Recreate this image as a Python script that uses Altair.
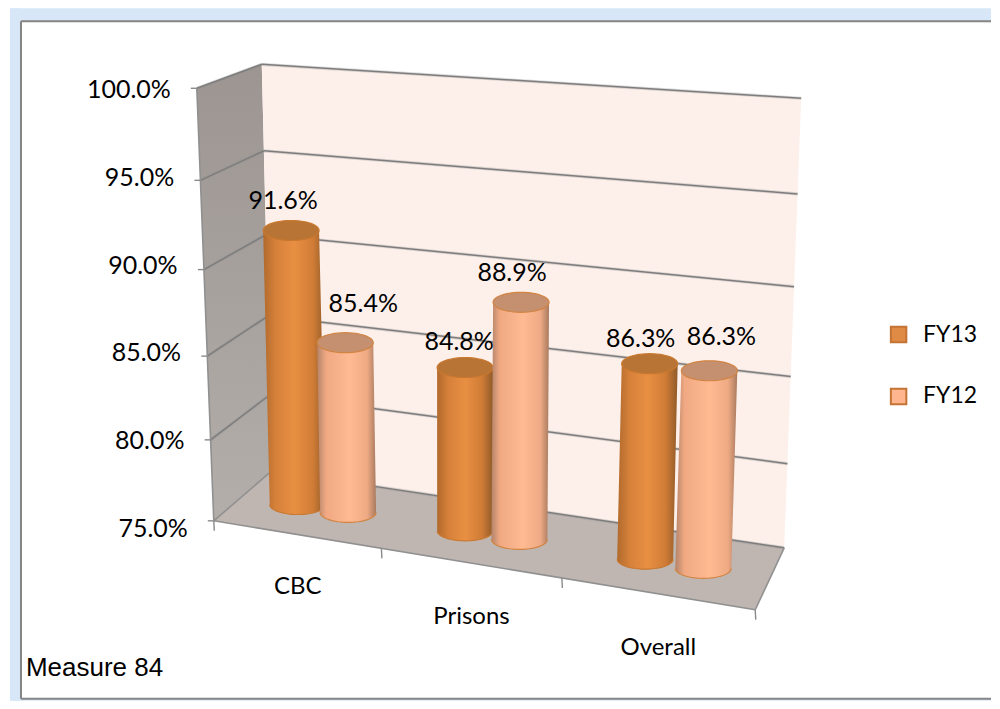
import altair as alt
import numpy as np
import pandas as pd

categories = ["CBC", "Prisons", "Overall"]
series = ["FY13", "FY12"]
fy13 = [91.6, 84.8, 86.3]
fy12 = [85.4, 88.9, 86.3]
ticks = [75, 80, 85, 90, 95, 100]
note = "Measure 84"

# Box of the 3D view as drawn: (front/back, left/right, floor/ceiling)
C = {
    (0, 0, 0): (214, 521), (0, 1, 0): (756, 610), (1, 0, 0): (272, 471), (1, 1, 0): (785, 548),
    (0, 0, 1): (197, 88), (0, 1, 1): (775, 134), (1, 0, 1): (262, 64), (1, 1, 1): (802, 98),
}
PW, PH = 984, 693
XS = alt.Scale(domain=[8, 8 + PW], nice=False, zero=False)
YS = alt.Scale(domain=[8 + PH, 8], nice=False, zero=False)
FONT = "Lato"


def project(u, pct, d):
    u2 = u - 0.107 * u * (1 - u)
    v = (pct - 75) / 25
    v2 = v - 0.08 * v * (1 - v)
    x = y = 0.0
    for (a, b, c), (px, py) in C.items():
        w = (d if a else 1 - d) * (u2 if b else 1 - u2) * (v2 if c else 1 - v2)
        x += w * px
        y += w * py
    return x, y


def poly_rows(pid, pts):
    """Turn a convex outline into x / upper / lower rows for an area mark."""
    xs = sorted({round(p[0], 3) for p in pts})
    rows = []
    n = len(pts)
    for x in xs:
        hits = []
        for i in range(n):
            (x0, y0), (x1, y1) = pts[i], pts[(i + 1) % n]
            lo, hi = min(x0, x1), max(x0, x1)
            if lo - 1e-3 <= x <= hi + 1e-3:
                if abs(x1 - x0) < 1e-6:
                    hits += [y0, y1]
                else:
                    hits.append(y0 + (y1 - y0) * (x - x0) / (x1 - x0))
        rows.append({"id": pid, "x": x, "y": min(hits), "y2": max(hits)})
    return rows


def ellipse(cx, cy, rx, ry, n=48):
    return [(cx + rx * np.cos(t), cy + ry * np.sin(t)) for t in np.linspace(0, 2 * np.pi, n, endpoint=False)]


def area(rows, **kw):
    return (
        alt.Chart(pd.DataFrame(rows))
        .mark_area(orient="vertical", **kw)
        .encode(
            x=alt.X("x:Q", scale=XS, axis=None),
            y=alt.Y("y:Q", scale=YS, axis=None),
            y2="y2:Q",
            detail="id:N",
        )
    )


def curve(pts, **kw):
    return (
        alt.Chart(pd.DataFrame({"x": [p[0] for p in pts], "y": [p[1] for p in pts]}))
        .mark_line(**kw)
        .encode(
            x=alt.X("x:Q", scale=XS, axis=None),
            y=alt.Y("y:Q", scale=YS, axis=None),
        )
    )


def seg(rows, **kw):
    return (
        alt.Chart(pd.DataFrame(rows))
        .mark_rule(**kw)
        .encode(
            x=alt.X("x:Q", scale=XS, axis=None),
            y=alt.Y("y:Q", scale=YS, axis=None),
            x2="x2:Q",
            y2="y2:Q",
        )
    )


def txt(rows, align="center", **kw):
    return (
        alt.Chart(pd.DataFrame(rows))
        .mark_text(align=align, baseline="middle", **kw)
        .encode(
            x=alt.X("x:Q", scale=XS, axis=None),
            y=alt.Y("y:Q", scale=YS, axis=None),
            text="t:N",
        )
    )


def s(a, b):
    return {"x": a[0], "y": a[1], "x2": b[0], "y2": b[1]}


# page band and frame
band = alt.Chart(pd.DataFrame([
    {"x": 10, "x2": 21, "y": 8, "y2": 701},
    {"x": 10, "x2": 992, "y": 8, "y2": 21},
    {"x": 10, "x2": 992, "y": 699, "y2": 701},
])).mark_rect(color="#d8e7f8").encode(
    x=alt.X("x:Q", scale=XS, axis=None), x2="x2:Q",
    y=alt.Y("y:Q", scale=YS, axis=None), y2="y2:Q")
frame = seg([s((21, 21), (992, 21)), s((21, 21), (21, 699)), s((21, 699), (992, 699))],
            color="#858585", strokeWidth=2)

# walls and floor
bl, br = C[(1, 0, 0)], C[(1, 1, 0)]
walls = [
    area(poly_rows("side", [C[(0, 0, 1)], C[(1, 0, 1)], bl, C[(0, 0, 0)]]),
         color=alt.Gradient(gradient="linear", x1=0, x2=0, y1=0, y2=1,
                            stops=[alt.GradientStop(color="#9c9591", offset=0),
                                   alt.GradientStop(color="#b3aeaa", offset=1)])),
    area(poly_rows("back", [C[(1, 0, 1)], C[(1, 1, 1)], br, bl]), color="#fdf0ea"),
    area(poly_rows("floor", [bl, br, C[(0, 1, 0)], C[(0, 0, 0)]]), color="#bfb6b2"),
]

# grid lines along side and back wall
grid_rows = []
for t in ticks[1:]:
    grid_rows.append(s(project(0, t, 0), project(0, t, 1)))
    grid_rows.append(s(project(0, t, 1), project(1, t, 1)))
grid_rows.append(s(bl, br))
grid_halo = seg(grid_rows, color="#8f8f8f", strokeWidth=3.2, opacity=0.3)
grid = seg(grid_rows, color="#7d7d7d", strokeWidth=1.5)

edge_rows = [s(C[(0, 0, 1)], C[(0, 0, 0)]), s(C[(0, 0, 0)], C[(0, 1, 0)]),
             s(C[(0, 1, 0)], br), s(C[(0, 0, 0)], bl)]
edges = seg(edge_rows, color="#909090", strokeWidth=1.6)

tick_rows = []
for t in ticks:
    p = project(0, t, 0)
    tick_rows.append(s((p[0] - 6, p[1]), p))
for i in range(4):
    p = project(i / 3, 75, 0)
    tick_rows.append(s(p, (p[0] + 0.5, p[1] + 10)))
tickmarks = seg(tick_rows, color="#8a8a8a", strokeWidth=1.4)

# cylinders
RX, RY = 28, 10
DELTA = 0.0515
STYLE = {
    "FY13": dict(stops=[("#b06a2c", 0), ("#d6803a", 0.2), ("#e88f42", 0.5), ("#d07c36", 0.8), ("#8f5a28", 1)],
                 cap="#b87434", edge="#c9782f"),
    "FY12": dict(stops=[("#b5846a", 0), ("#f0a983", 0.15), ("#ffba92", 0.55), ("#eeaa84", 0.85), ("#a87a5e", 1)],
                 cap="#c4906f", edge="#d28442"),
}
bar_layers = []
label_rows = []
LABEL_SHIFT = {("FY13", 0): (-8, -30), ("FY12", 0): (18, -39), ("FY13", 1): (-6, -26),
               ("FY12", 1): (-9, -29), ("FY13", 2): (-9, -25), ("FY12", 2): (12, -34)}
for i in range(3):
    for name, vals, sign in (("FY13", fy13, -1), ("FY12", fy12, 1)):
        u = (i + 0.5) / 3 + sign * DELTA
        base = project(u, 75, 0.5)
        top = project(u, vals[i], 0.5)
        st = STYLE[name]
        arc = [(base[0] + RX * np.cos(t), base[1] + RY * np.sin(t)) for t in np.linspace(0, np.pi, 40)]
        outline = [(top[0] + RX, top[1])] + arc + [(top[0] - RX, top[1])]
        pid = f"{name}-{i}"
        grad = alt.Gradient(gradient="linear", x1=0, x2=1, y1=0, y2=0,
                            stops=[alt.GradientStop(color=c, offset=o) for c, o in st["stops"]])
        bar_layers.append(area(poly_rows(pid, outline), color=grad))
        bar_layers.append(curve(arc, color=st["edge"], strokeWidth=1.2))
        bar_layers.append(area(poly_rows(pid, ellipse(top[0], top[1], RX, RY)),
                               color=st["cap"], stroke=st["edge"], strokeWidth=1.2))
        dx, dy = LABEL_SHIFT[(name, i)]
        label_rows.append({"x": top[0] + dx, "y": top[1] + dy, "t": f"{vals[i]:.1f}%"})

labels = txt(label_rows, font=FONT, fontSize=25, color="#000000")

# value labels left of the side wall
ax_rows = [{"x": 188 - 3.4 * k, "y": 529 - 87.8 * k, "t": f"{t:.1f}%"} for k, t in enumerate(ticks)]
ax_labels = txt(ax_rows, align="right", font=FONT, fontSize=25, color="#000000")

cat_pos = [(298, 587), (472, 617), (659, 648)]
cat_labels = txt([{"x": p[0], "y": p[1], "t": c} for p, c in zip(cat_pos, categories)],
                 font=FONT, fontSize=24, color="#000000")
note_text = txt([{"x": 26, "y": 668, "t": note}], align="left", font="Liberation Sans",
                fontSize=26, color="#000000")

# legend
legend_src = alt.Chart(pd.DataFrame({"s": series, "x": [898, 898], "y": [332, 395]})).mark_square(size=1).encode(
    x=alt.X("x:Q", scale=XS, axis=None),
    y=alt.Y("y:Q", scale=YS, axis=None),
    fill=alt.Fill("s:N", sort=series,
                  scale=alt.Scale(domain=series, range=["#df8a45", "#ffb68f"]),
                  legend=alt.Legend(title=None, orient="none", legendX=880, legendY=315,
                                    symbolType="square", symbolSize=240, symbolStrokeColor="#c47434",
                                    symbolStrokeWidth=2, labelFont=FONT, labelFontSize=23,
                                    labelColor="#000000", rowPadding=37, labelOffset=13,
                                    symbolOpacity=1)),
)

chart = alt.layer(
    band, frame, *walls, grid_halo, grid, edges, tickmarks, *bar_layers, labels, ax_labels, cat_labels, note_text, legend_src
).properties(
    width=PW, height=PH, padding=0,
).configure_view(stroke=None)

chart.save("out.html", embed_options={"renderer": "svg", "actions": False})
